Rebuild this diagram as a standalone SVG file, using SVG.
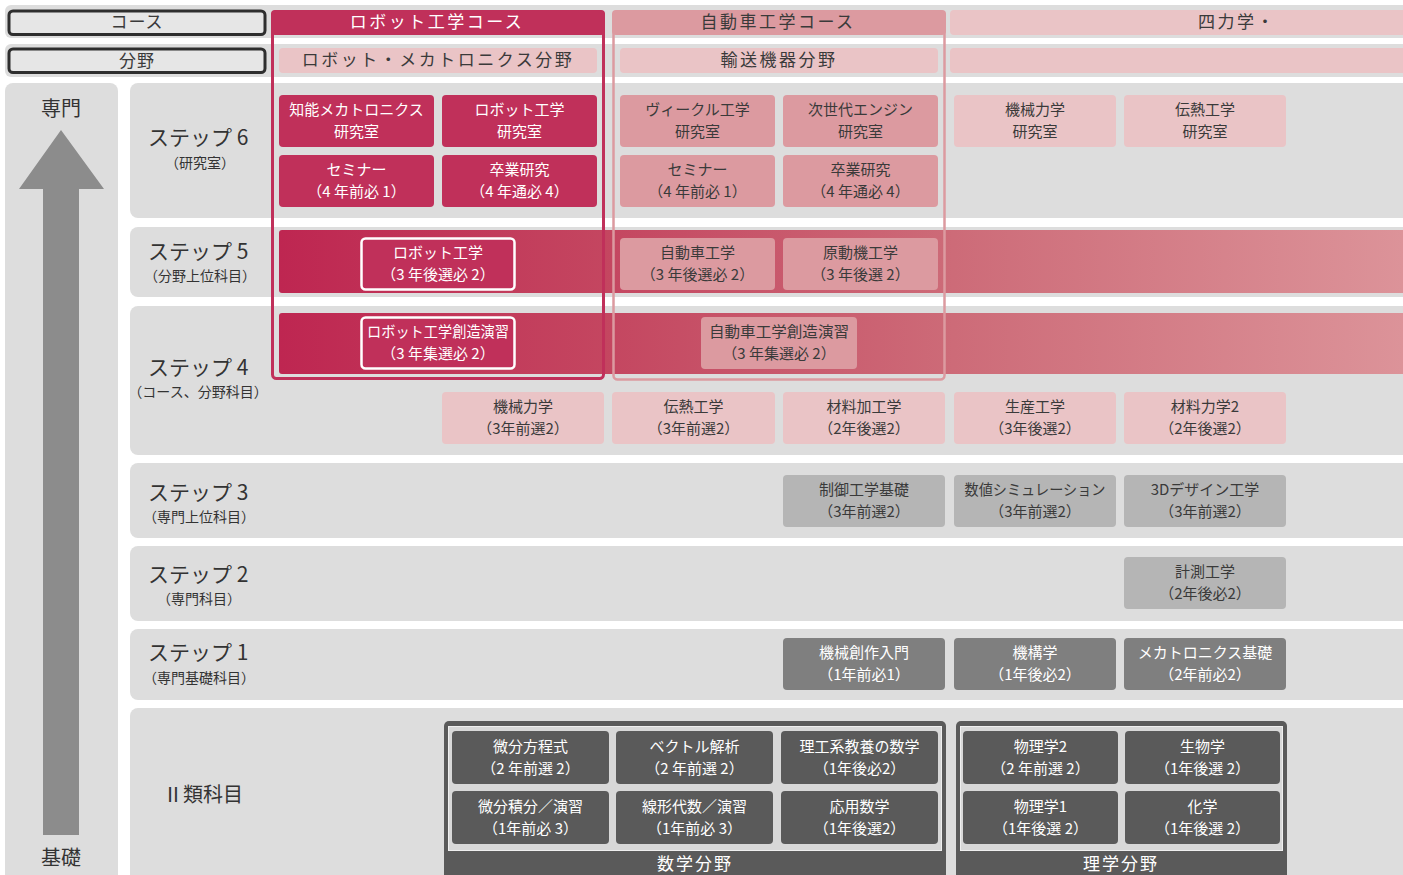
<svg xmlns="http://www.w3.org/2000/svg" width="1403" height="875" viewBox="0 0 1403 875">
<defs>
<style>
text{font-family:"Noto Sans CJK JP","Noto Sans",sans-serif;text-anchor:middle}
.band{fill:#DDDDDD}
.bx{font-size:15px}
.cr{fill:#C0305A}
.ap{fill:#DC9AA0}
.lp{fill:#EAC4C6}
.g1{fill:#B5B5B5}
.g2{fill:#7F7F7F}
.g3{fill:#5A5A5A}
.wt{fill:#FFFFFF}
.dk{fill:#3A3A3A}
.step{font-size:21px;fill:#333;text-anchor:start}
.sub{font-size:14px;fill:#333}
.hd{font-size:17px;letter-spacing:2.5px}
</style>
<linearGradient id="grad" gradientUnits="userSpaceOnUse" x1="279" y1="0" x2="1403" y2="0">
<stop offset="0" stop-color="#BE2651"/>
<stop offset="0.29" stop-color="#C44660"/>
<stop offset="0.6" stop-color="#CD6B78"/>
<stop offset="1" stop-color="#DC9399"/>
</linearGradient>
</defs>
<rect width="1403" height="875" fill="#FFFFFF"/>

<!-- background bands -->
<g id="bands">
<rect class="band" x="5" y="5" width="1410" height="33" rx="6"/>
<rect class="band" x="5" y="44" width="1410" height="33" rx="6"/>
<rect class="band" x="5" y="83" width="113" height="800" rx="8"/>
<rect class="band" x="130" y="83" width="1290" height="135" rx="8"/>
<rect class="band" x="130" y="227" width="1290" height="70" rx="8"/>
<rect class="band" x="130" y="306" width="1290" height="149" rx="8"/>
<rect class="band" x="130" y="463" width="1290" height="75" rx="8"/>
<rect class="band" x="130" y="546" width="1290" height="75" rx="8"/>
<rect class="band" x="130" y="629" width="1290" height="71" rx="8"/>
<rect class="band" x="130" y="708" width="1290" height="180" rx="8"/>
<rect fill="url(#grad)" x="279" y="230" width="1130" height="63" rx="3"/>
<rect fill="url(#grad)" x="279" y="313" width="1130" height="61" rx="3"/>
</g>

<!-- row headers -->
<g id="hdr-course">
<rect x="9" y="11" width="256" height="23.5" rx="4" fill="#E6E6E6" stroke="#2E2E2E" stroke-width="3"/>
<text x="137" y="28" class="hd dk" style="letter-spacing:1px">コース</text>
</g>
<g id="hdr-field">
<rect x="9" y="49" width="256" height="23.5" rx="4" fill="#E6E6E6" stroke="#2E2E2E" stroke-width="3"/>
<text x="137" y="67" class="hd dk" style="letter-spacing:1px">分野</text>
</g>

<!-- course headers -->
<g id="course-robot">
<rect class="cr" x="271" y="10" width="334" height="25" rx="4"/>
<text x="437" y="28" class="hd wt">ロボット工学コース</text>
<rect class="lp" x="279" y="48" width="318" height="25" rx="4"/>
<text x="438" y="66" class="hd dk">ロボット・メカトロニクス分野</text>
</g>
<g id="course-auto">
<rect class="ap" x="612" y="10" width="334" height="25" rx="4"/>
<text x="778" y="28" class="hd dk">自動車工学コース</text>
<rect class="lp" x="620" y="48" width="318" height="25" rx="4"/>
<text x="779" y="66" class="hd dk">輸送機器分野</text>
</g>
<g id="course-mech">
<rect class="lp" x="950" y="10" width="460" height="25" rx="4"/>
<text x="1237" y="28" class="hd dk">四力学・</text>
<rect class="lp" x="950" y="48" width="460" height="25" rx="4"/>
</g>

<!-- left progression -->
<g id="progress">
<text x="61" y="116" style="font-size:20px;fill:#333">専門</text>
<polygon points="61,130 104,189 79,189 79,835 43,835 43,189 19,189" fill="#8C8C8C"/>
<text x="61" y="865" style="font-size:20px;fill:#333">基礎</text>
</g>

<!-- step labels -->
<g id="step6"><text x="148" y="145" class="step">ステップ 6</text><text x="200" y="168" class="sub">（研究室）</text></g>
<g id="step5"><text x="148" y="259" class="step">ステップ 5</text><text x="200" y="281" class="sub">（分野上位科目）</text></g>
<g id="step4"><text x="148" y="375" class="step">ステップ 4</text><text x="198" y="397" class="sub">（コース、分野科目）</text></g>
<g id="step3"><text x="148" y="500" class="step">ステップ 3</text><text x="199" y="522" class="sub">（専門上位科目）</text></g>
<g id="step2"><text x="148" y="582" class="step">ステップ 2</text><text x="199" y="604" class="sub">（専門科目）</text></g>
<g id="step1"><text x="148" y="660" class="step">ステップ 1</text><text x="199" y="683" class="sub">（専門基礎科目）</text></g>
<g id="cat2"><text x="163" y="802" class="step" style="font-size:20px">Ⅱ類科目</text></g>

<!-- step 6 -->
<g id="n-lab-mecha"><rect class="cr" x="279" y="95" width="155" height="52" rx="4"/><text class="bx wt" x="356.5" y="115">知能メカトロニクス</text><text class="bx wt" x="356.5" y="137">研究室</text></g>
<g id="n-lab-robot"><rect class="cr" x="442" y="95" width="155" height="52" rx="4"/><text class="bx wt" x="519.5" y="115">ロボット工学</text><text class="bx wt" x="519.5" y="137">研究室</text></g>
<g id="n-sem-r"><rect class="cr" x="279" y="155" width="155" height="52" rx="4"/><text class="bx wt" x="356.5" y="175">セミナー</text><text class="bx wt" x="356.5" y="197">（4 年前必 1）</text></g>
<g id="n-grad-r"><rect class="cr" x="442" y="155" width="155" height="52" rx="4"/><text class="bx wt" x="519.5" y="175">卒業研究</text><text class="bx wt" x="519.5" y="197">（4 年通必 4）</text></g>
<g id="n-lab-vehicle"><rect class="ap" x="620" y="95" width="155" height="52" rx="4"/><text class="bx dk" x="697.5" y="115">ヴィークル工学</text><text class="bx dk" x="697.5" y="137">研究室</text></g>
<g id="n-lab-engine"><rect class="ap" x="783" y="95" width="155" height="52" rx="4"/><text class="bx dk" x="860.5" y="115">次世代エンジン</text><text class="bx dk" x="860.5" y="137">研究室</text></g>
<g id="n-sem-a"><rect class="ap" x="620" y="155" width="155" height="52" rx="4"/><text class="bx dk" x="697.5" y="175">セミナー</text><text class="bx dk" x="697.5" y="197">（4 年前必 1）</text></g>
<g id="n-grad-a"><rect class="ap" x="783" y="155" width="155" height="52" rx="4"/><text class="bx dk" x="860.5" y="175">卒業研究</text><text class="bx dk" x="860.5" y="197">（4 年通必 4）</text></g>
<g id="n-lab-dyn"><rect class="lp" x="954" y="95" width="162" height="52" rx="4"/><text class="bx dk" x="1035" y="115">機械力学</text><text class="bx dk" x="1035" y="137">研究室</text></g>
<g id="n-lab-heat"><rect class="lp" x="1124" y="95" width="162" height="52" rx="4"/><text class="bx dk" x="1205" y="115">伝熱工学</text><text class="bx dk" x="1205" y="137">研究室</text></g>

<!-- step 5 -->
<g id="n-robot"><rect class="cr" x="361.5" y="238.5" width="153" height="51" rx="4" stroke="#FFFFFF" stroke-width="2.5"/><text class="bx wt" x="438" y="258">ロボット工学</text><text class="bx wt" x="438" y="280">（3 年後選必 2）</text></g>
<g id="n-auto"><rect class="ap" x="620" y="238" width="155" height="52" rx="4"/><text class="bx dk" x="697.5" y="258">自動車工学</text><text class="bx dk" x="697.5" y="280">（3 年後選必 2）</text></g>
<g id="n-prime"><rect class="ap" x="783" y="238" width="155" height="52" rx="4"/><text class="bx dk" x="860.5" y="258">原動機工学</text><text class="bx dk" x="860.5" y="280">（3 年後選 2）</text></g>

<!-- step 4 -->
<g id="n-robot-cr"><rect class="cr" x="361.5" y="317.5" width="153" height="51" rx="4" stroke="#FFFFFF" stroke-width="2.5"/><text class="bx wt" x="438" y="337" textLength="142" lengthAdjust="spacingAndGlyphs">ロボット工学創造演習</text><text class="bx wt" x="438" y="359">（3 年集選必 2）</text></g>
<g id="n-auto-cr"><rect class="ap" x="701" y="317" width="156" height="52" rx="4"/><text class="bx dk" x="779" y="337" textLength="140" lengthAdjust="spacingAndGlyphs">自動車工学創造演習</text><text class="bx dk" x="779" y="359">（3 年集選必 2）</text></g>
<g id="n-dyn"><rect class="lp" x="442" y="392" width="162" height="52" rx="4"/><text class="bx dk" x="523" y="412">機械力学</text><text class="bx dk" x="523" y="434">（3年前選2）</text></g>
<g id="n-heat"><rect class="lp" x="612" y="392" width="163" height="52" rx="4"/><text class="bx dk" x="693.5" y="412">伝熱工学</text><text class="bx dk" x="693.5" y="434">（3年前選2）</text></g>
<g id="n-mproc"><rect class="lp" x="783" y="392" width="162" height="52" rx="4"/><text class="bx dk" x="864" y="412">材料加工学</text><text class="bx dk" x="864" y="434">（2年後選2）</text></g>
<g id="n-prod"><rect class="lp" x="954" y="392" width="162" height="52" rx="4"/><text class="bx dk" x="1035" y="412">生産工学</text><text class="bx dk" x="1035" y="434">（3年後選2）</text></g>
<g id="n-mat2"><rect class="lp" x="1124" y="392" width="162" height="52" rx="4"/><text class="bx dk" x="1205" y="412">材料力学2</text><text class="bx dk" x="1205" y="434">（2年後選2）</text></g>

<!-- course frames -->
<g id="frames" fill="none">
<rect x="272.5" y="11.5" width="331" height="367" rx="4" stroke="#C0305A" stroke-width="3"/>
<rect x="613.5" y="11.5" width="331" height="368" rx="4" stroke="#DC9AA0" stroke-width="2.5"/>
</g>

<!-- step 3 -->
<g id="n-ctrl"><rect class="g1" x="783" y="475" width="162" height="52" rx="4"/><text class="bx dk" x="864" y="495">制御工学基礎</text><text class="bx dk" x="864" y="517">（3年前選2）</text></g>
<g id="n-sim"><rect class="g1" x="954" y="475" width="162" height="52" rx="4"/><text class="bx dk" x="1035" y="495" textLength="141" lengthAdjust="spacingAndGlyphs">数値シミュレーション</text><text class="bx dk" x="1035" y="517">（3年前選2）</text></g>
<g id="n-3d"><rect class="g1" x="1124" y="475" width="162" height="52" rx="4"/><text class="bx dk" x="1205" y="495">3Dデザイン工学</text><text class="bx dk" x="1205" y="517">（3年前選2）</text></g>

<!-- step 2 -->
<g id="n-meas"><rect class="g1" x="1124" y="557" width="162" height="52" rx="4"/><text class="bx dk" x="1205" y="577">計測工学</text><text class="bx dk" x="1205" y="599">（2年後必2）</text></g>

<!-- step 1 -->
<g id="n-intro"><rect class="g2" x="783" y="638" width="162" height="52" rx="4"/><text class="bx wt" x="864" y="658">機械創作入門</text><text class="bx wt" x="864" y="680">（1年前必1）</text></g>
<g id="n-mech"><rect class="g2" x="954" y="638" width="162" height="52" rx="4"/><text class="bx wt" x="1035" y="658">機構学</text><text class="bx wt" x="1035" y="680">（1年後必2）</text></g>
<g id="n-mechabase"><rect class="g2" x="1124" y="638" width="162" height="52" rx="4"/><text class="bx wt" x="1205" y="658">メカトロニクス基礎</text><text class="bx wt" x="1205" y="680">（2年前必2）</text></g>

<!-- II math -->
<g id="grp-math">
<rect class="g3" x="444" y="721" width="502" height="165" rx="5"/>
<rect x="448.5" y="726.5" width="493" height="124" fill="#D8D8D8" stroke="#EFEFEF" stroke-width="1"/>
<text x="695" y="870" class="hd wt" style="letter-spacing:2px">数学分野</text>
</g>
<g id="n-de"><rect class="g3" x="452" y="731" width="157" height="53" rx="4"/><text class="bx wt" x="530.5" y="752">微分方程式</text><text class="bx wt" x="530.5" y="774">（2 年前選 2）</text></g>
<g id="n-vec"><rect class="g3" x="616" y="731" width="157" height="53" rx="4"/><text class="bx wt" x="694.5" y="752">ベクトル解析</text><text class="bx wt" x="694.5" y="774">（2 年前選 2）</text></g>
<g id="n-libmath"><rect class="g3" x="781" y="731" width="157" height="53" rx="4"/><text class="bx wt" x="859.5" y="752">理工系教養の数学</text><text class="bx wt" x="859.5" y="774">（1年後必2）</text></g>
<g id="n-calc"><rect class="g3" x="452" y="791" width="157" height="53" rx="4"/><text class="bx wt" x="530.5" y="812">微分積分／演習</text><text class="bx wt" x="530.5" y="834">（1年前必 3）</text></g>
<g id="n-linalg"><rect class="g3" x="616" y="791" width="157" height="53" rx="4"/><text class="bx wt" x="694.5" y="812">線形代数／演習</text><text class="bx wt" x="694.5" y="834">（1年前必 3）</text></g>
<g id="n-appmath"><rect class="g3" x="781" y="791" width="157" height="53" rx="4"/><text class="bx wt" x="859.5" y="812">応用数学</text><text class="bx wt" x="859.5" y="834">（1年後選2）</text></g>

<!-- II science -->
<g id="grp-sci">
<rect class="g3" x="956" y="721" width="331" height="165" rx="5"/>
<rect x="960.5" y="726.5" width="322" height="124" fill="#D8D8D8" stroke="#EFEFEF" stroke-width="1"/>
<text x="1121" y="870" class="hd wt" style="letter-spacing:2px">理学分野</text>
</g>
<g id="n-phys2"><rect class="g3" x="963" y="731" width="155" height="53" rx="4"/><text class="bx wt" x="1040.5" y="752">物理学2</text><text class="bx wt" x="1040.5" y="774">（2 年前選 2）</text></g>
<g id="n-bio"><rect class="g3" x="1125" y="731" width="155" height="53" rx="4"/><text class="bx wt" x="1202.5" y="752">生物学</text><text class="bx wt" x="1202.5" y="774">（1年後選 2）</text></g>
<g id="n-phys1"><rect class="g3" x="963" y="791" width="155" height="53" rx="4"/><text class="bx wt" x="1040.5" y="812">物理学1</text><text class="bx wt" x="1040.5" y="834">（1年後選 2）</text></g>
<g id="n-chem"><rect class="g3" x="1125" y="791" width="155" height="53" rx="4"/><text class="bx wt" x="1202.5" y="812">化学</text><text class="bx wt" x="1202.5" y="834">（1年後選 2）</text></g>

<g id="connectors"/>
</svg>
